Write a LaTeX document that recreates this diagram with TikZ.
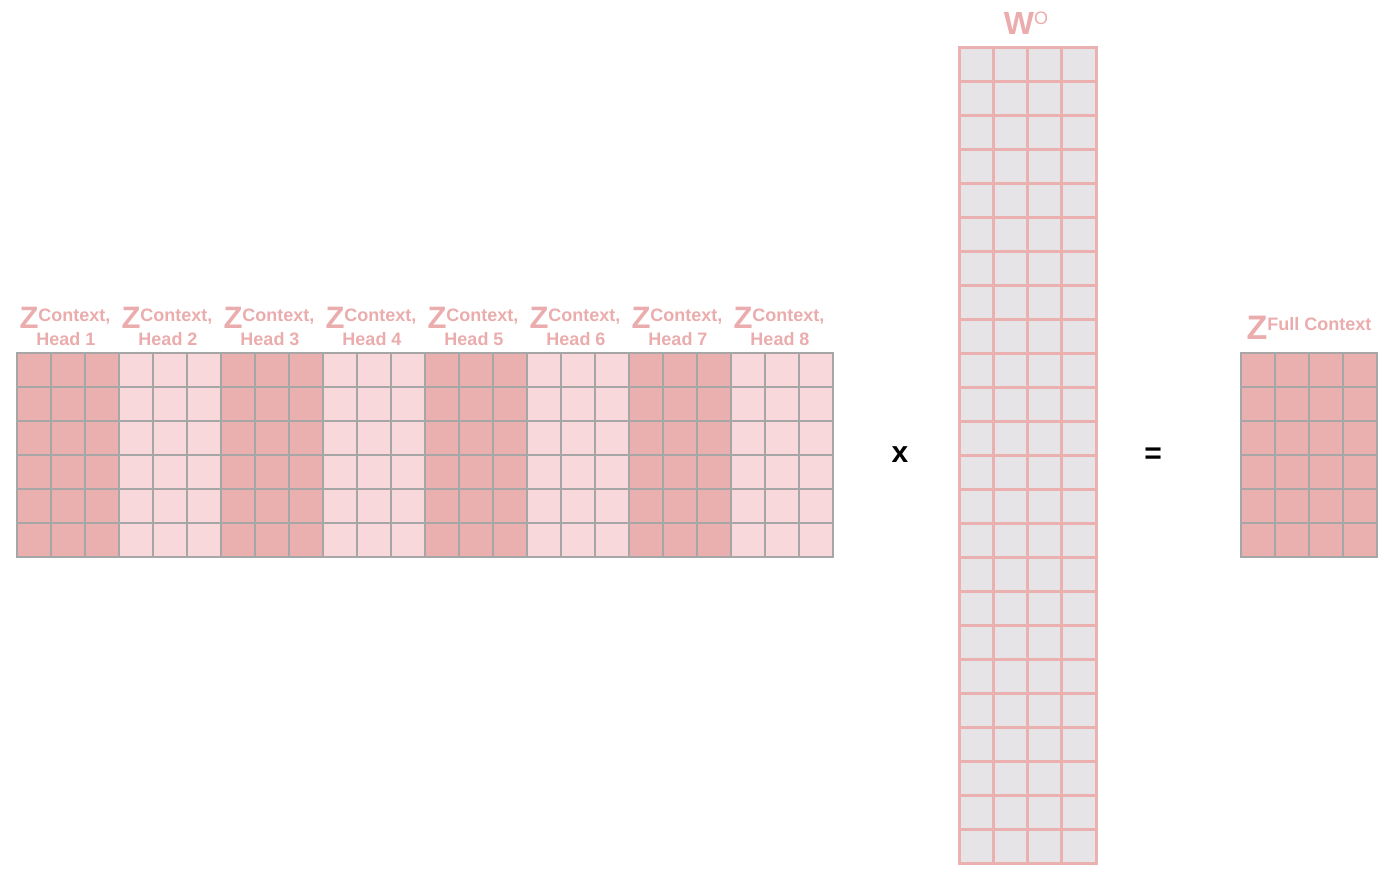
\documentclass[tikz,border=0pt]{standalone}
\usepackage{fontspec}
\setmainfont{Liberation Sans}
\definecolor{zdark}{RGB}{234,176,176}
\definecolor{zlight}{RGB}{248,216,218}
\definecolor{gridgray}{RGB}{166,166,166}
\definecolor{wfill}{RGB}{230,228,230}
\definecolor{wline}{RGB}{235,176,176}
\definecolor{labelpink}{RGB}{234,172,172}
\newcommand{\bigZ}[1]{{\fontsize{#1}{#1}\selectfont\bfseries Z}}
\tikzset{
  cellgrid/.style={draw=gridgray, line width=2pt, line cap=rect},
  wgrid/.style={draw=wline, line width=3pt, line cap=rect},
  mlabel/.style={text=labelpink, font=\bfseries\fontsize{18}{18}\selectfont, inner sep=0pt, anchor=base},
  opsign/.style={font=\bfseries\fontsize{30}{30}\selectfont, inner sep=0pt}
}
\begin{document}
\begin{tikzpicture}[x=1pt, y=-1pt]
    \useasboundingbox (0,0) rectangle (1397,876);

    % Concatenated heads matrix
    \foreach \h in {0,...,7}{
        \pgfmathtruncatemacro\hn{\h+1}
        \ifodd\h \def\cellcol{zlight}\else \def\cellcol{zdark}\fi
        \fill[\cellcol] ({17+102*\h},353) rectangle ++(102,204);
        \node[mlabel] (ztop\hn) at ({65+102*\h},328) {\bigZ{31}\raisebox{7pt}{Context,}};
        \node[mlabel] (zhead\hn) at ({66+102*\h},345) {Head \hn};
    }
    \foreach \c in {0,...,24}
        \draw[cellgrid] ({17+34*\c},353) -- ({17+34*\c},557);
    \foreach \r in {0,...,6}
        \draw[cellgrid] (17,{353+34*\r}) -- (833,{353+34*\r});

    % Times sign
    \node[opsign] (times) at (900,455) {x};

    % Output weight matrix
    \fill[wfill] (959,47) rectangle (1096,863);
    \foreach \c in {0,...,4}
        \draw[wgrid] ({959+34.25*\c},47) -- ({959+34.25*\c},863);
    \foreach \r in {0,...,24}
        \draw[wgrid] (959,{47+34*\r}) -- (1096,{47+34*\r});
    \node[mlabel, font=\bfseries\fontsize{32}{32}\selectfont] (wlabel) at (1026,34)
        {W\raisebox{10pt}{\mdseries\fontsize{18}{18}\selectfont O}};

    % Equals sign
    \node[opsign] (equals) at (1153,456) {=};

    % Full context matrix
    \fill[zdark] (1241,353) rectangle (1377,557);
    \foreach \c in {0,...,4}
        \draw[cellgrid] ({1241+34*\c},353) -- ({1241+34*\c},557);
    \foreach \r in {0,...,6}
        \draw[cellgrid] (1241,{353+34*\r}) -- (1377,{353+34*\r});
    \node[mlabel] (zfull) at (1309,339) {\bigZ{34}\raisebox{9pt}{Full Context}};
\end{tikzpicture}
\end{document}
